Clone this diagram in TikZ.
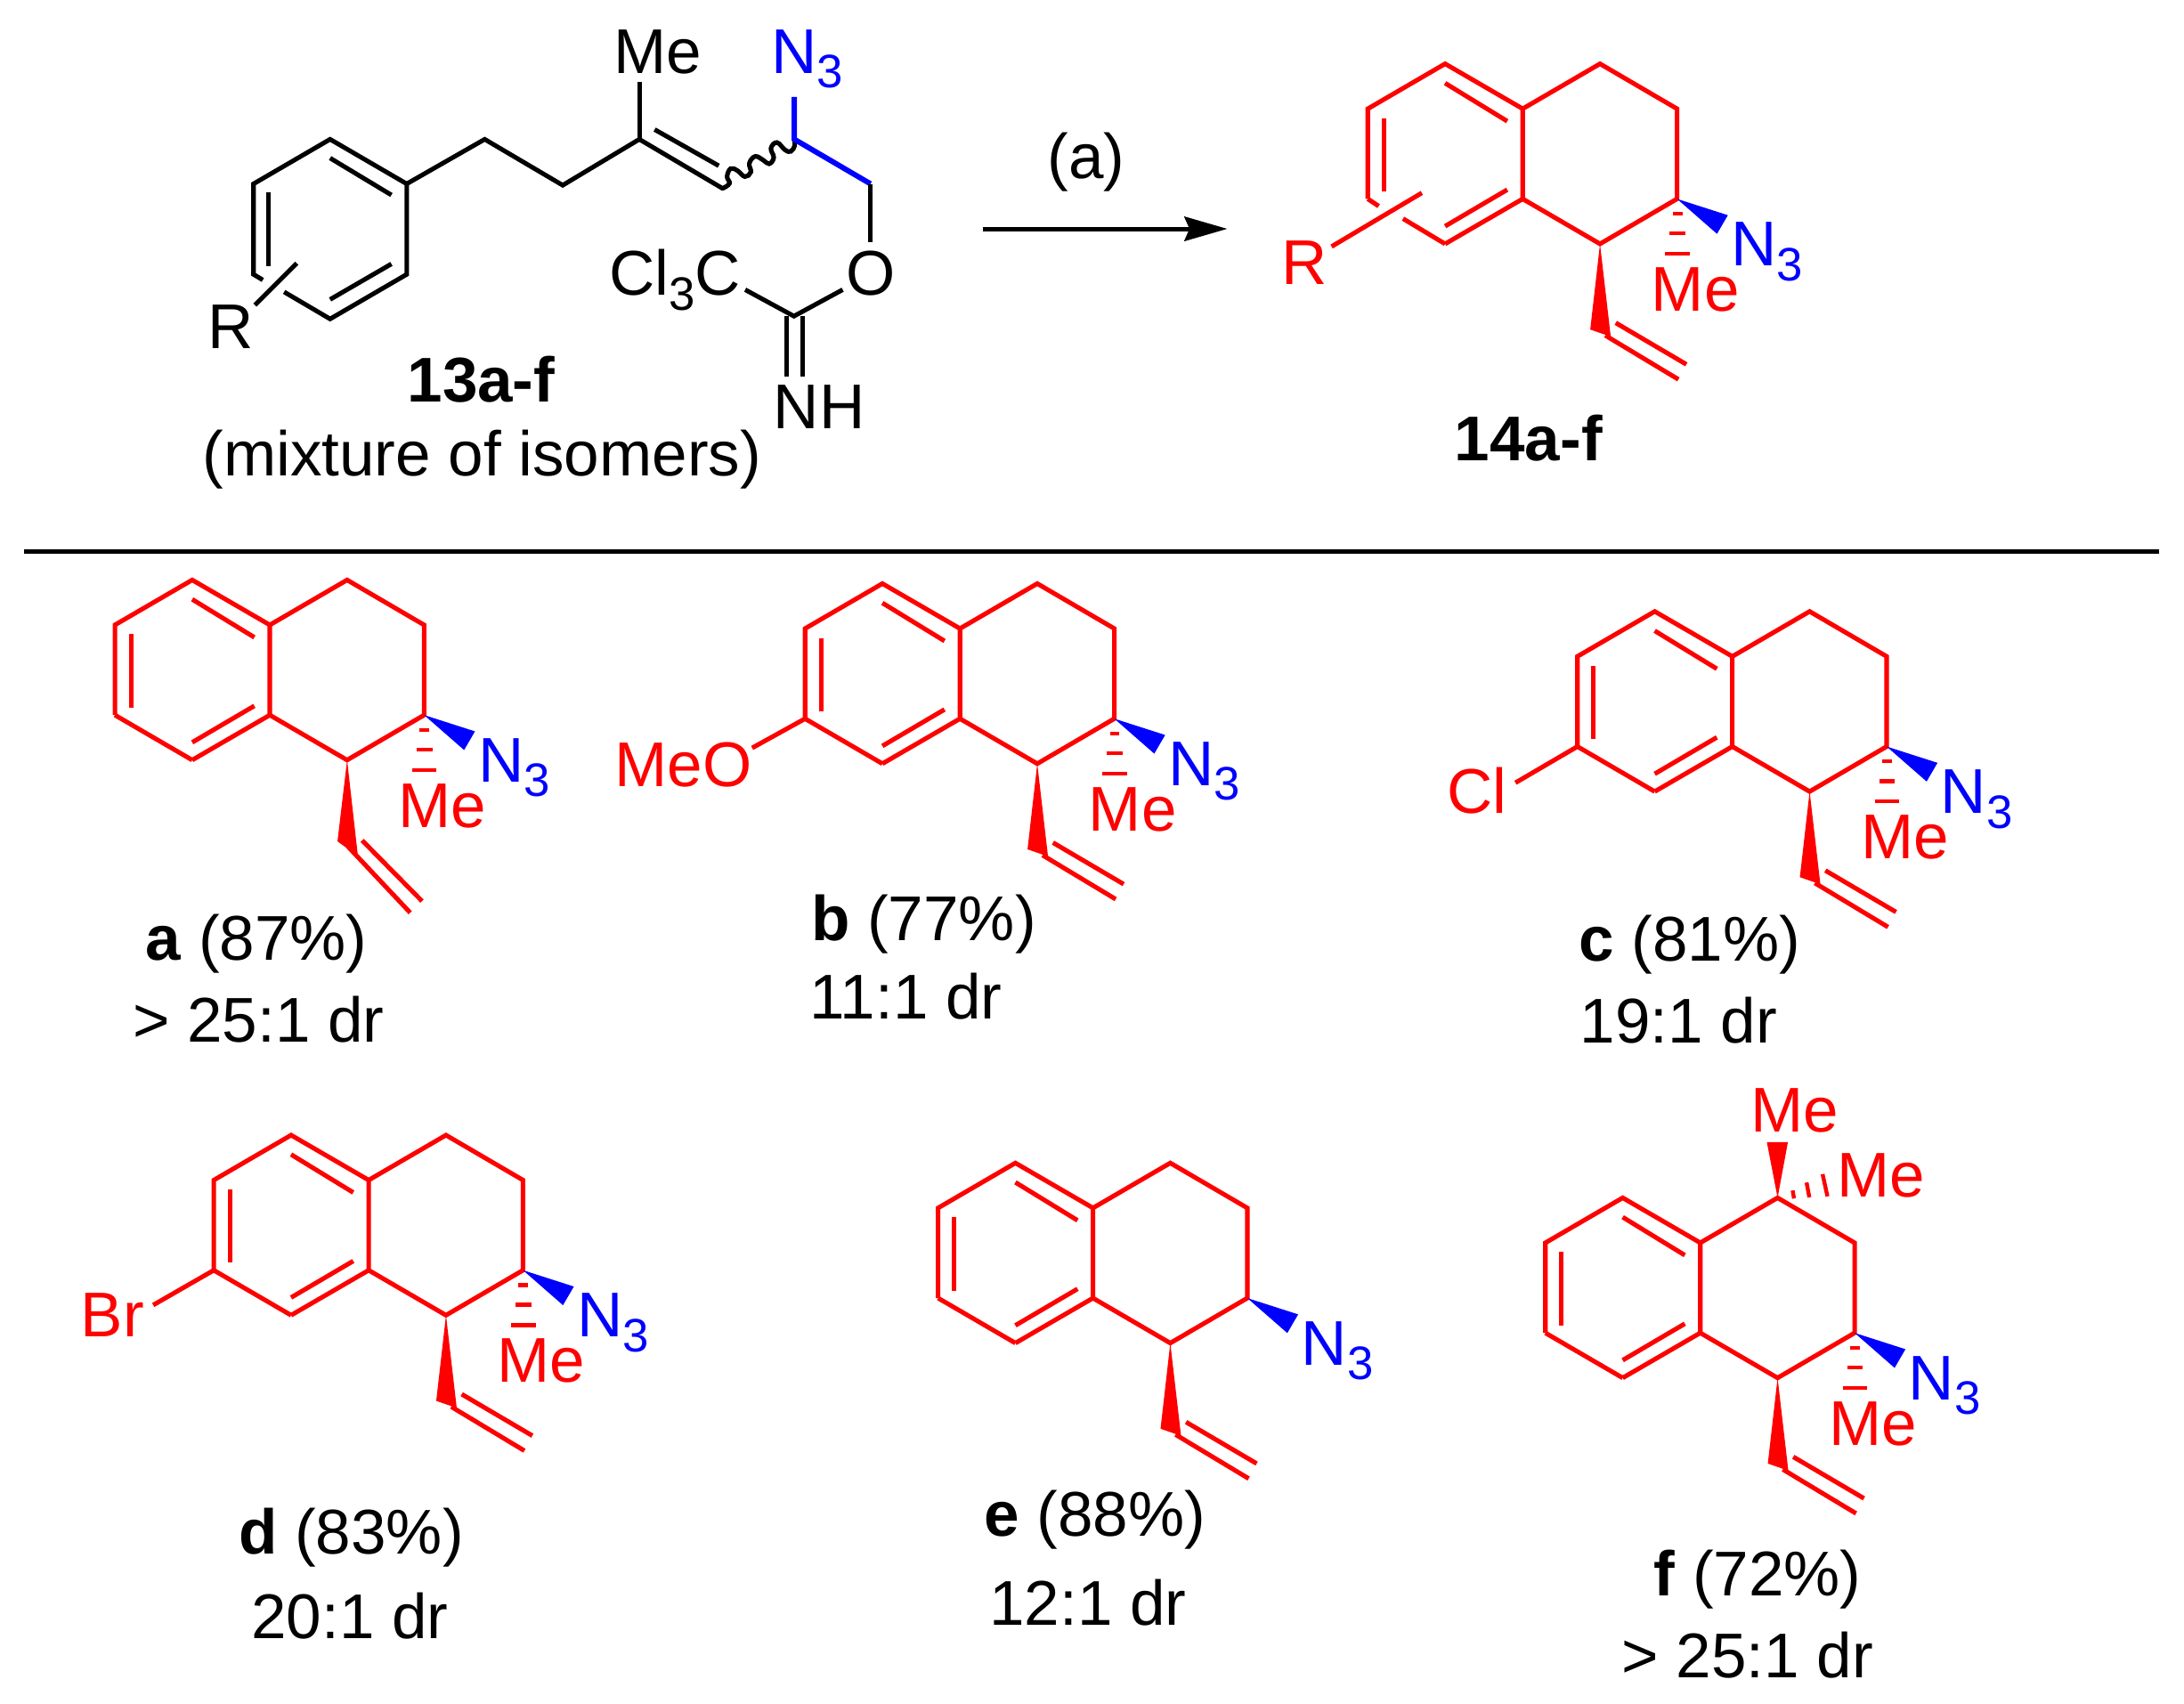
\documentclass[tikz,border=0pt]{standalone}
\usepackage{fontspec}
\setmainfont{Liberation Sans}
\newcommand{\subthree}{\raisebox{-0.165cm}{\fontsize{15}{15}\selectfont 3}}
\newcommand{\Nthree}{N\subthree}
\tikzset{
  x=0.015645cm, y=-0.015645cm,
  bond/.style={line width=1.45pt, line join=miter},
  lbl/.style={font=\fontsize{20.2}{22}\selectfont, inner sep=0pt, anchor=base west},
  rlbl/.style={lbl, text=red},
  blbl/.style={lbl, text=blue},
  klbl/.style={lbl, text=black},
  hashl/.style={line width=1.25pt, red},
}
% tetralin: prefix, x, y of the top aromatic atom
\newcommand{\tetralin}[3]{%
  \begin{scope}[shift={(#2,#3)}, name prefix=#1-]
    \coordinate (T) at (0,0);
    \coordinate (Aa) at (55.7,32.3);
    \coordinate (Ab) at (55.7,97);
    \coordinate (B) at (0,129.3);
    \coordinate (Lb) at (-55.5,97);
    \coordinate (Lt) at (-55.5,32.3);
    \coordinate (S) at (111.2,0);
    \coordinate (C3) at (166.5,32.3);
    \coordinate (C2) at (166.5,97);
    \coordinate (C1) at (111.2,129.3);
    \coordinate (i1) at (0,13.9); \coordinate (i2) at (44.6,41.2);
    \coordinate (i3) at (44.6,90.4); \coordinate (i4) at (0,116.6);
    \coordinate (i5) at (-43.9,39); \coordinate (i6) at (-43.9,91.6);
    \coordinate (n1) at (203,108.7); \coordinate (n2) at (195.2,122.1);
    \draw[bond,red] (Lb) -- (Lt) -- (T) -- (Aa) -- (Ab) -- (B);
    \draw[bond,red] (Aa) -- (S) -- (C3) -- (C2) -- (C1) -- (Ab);
    \draw[bond,red] (i1) -- (i2);
    \draw[bond,red] (i3) -- (i4);
    \draw[bond,red] (i5) -- (i6);
    \fill[blue] (C2) -- (n1) -- (n2) -- cycle;
    \node[blbl] (N3) at (205,145) {\Nthree};
  \end{scope}}
% wedge and vinyl group (common geometry)
\newcommand{\vinylgroup}[3]{%
  \begin{scope}[shift={(#2,#3)}, name prefix=#1-]
    \coordinate (w1) at (104.2,190.8); \coordinate (w2) at (118.9,195.9);
    \coordinate (v1) at (115,195); \coordinate (v2) at (167.5,226.6);
    \coordinate (v3) at (122.5,186); \coordinate (v4) at (173.2,215.8);
    \fill[red] (C1) -- (w1) -- (w2) -- cycle;
    \draw[bond,red] (v1) -- (v2);
    \draw[bond,red] (v3) -- (v4);
  \end{scope}}
% hashed bond to the lower Me and its label
\newcommand{\hashme}[3]{%
  \begin{scope}[shift={(#2,#3)}, name prefix=#1-]
    \draw[hashl] (163.3,107.6) -- (170.3,107.6);
    \draw[hashl] (161.1,121.8) -- (172.5,121.8);
    \draw[hashl] (158.1,136.4) -- (175.5,136.4);
    \node[rlbl] (Me) at (147.7,177.5) {Me};
  \end{scope}}
\begin{document}
\begin{tikzpicture}
\useasboundingbox (0,0) rectangle (1568,1223.4);
\fill[white] (0,0) rectangle (1568,1223.4);

% ---- substrate 13
\coordinate (p1) at (237,100); \coordinate (p2) at (292,132);
\coordinate (p3) at (292,197); \coordinate (p4) at (237,229);
\coordinate (p5) at (182,197); \coordinate (p6) at (182,132);
\coordinate (p7) at (348,100); \coordinate (p8) at (404,133);
\coordinate (p9) at (459,100); \coordinate (p10) at (518.8,135.3);
\coordinate (p11) at (570.3,100); \coordinate (p12) at (625,132);
\coordinate (p13) at (570,227);
\coordinate (g1) at (188.7,201); \coordinate (g2) at (204,209.6);
\coordinate (r1) at (183,219); \coordinate (r2) at (213,189);
\node[klbl] (sMe) at (440,52.5) {Me};
\node[blbl] (sN) at (553.5,52.5) {\Nthree};
\node[klbl] (sCl) at (437,212) {Cl\subthree C};
\node[klbl,anchor=base] (sO) at (625,212) {O};
\node[klbl] (sNH) at (555,308) {NH};
\node[klbl] (sR) at (149,250.5) {R};
\draw[bond] (g1) -- (p5) -- (p6) -- (p1) -- (p2) -- (p3) -- (p4) -- (g2);
\draw[bond] (p2) -- (p7) -- (p8) -- (p9) -- (p10);
\draw[bond] (237,113.5) -- (281,140);
\draw[bond] (281,189.5) -- (237,215);
\draw[bond] (193,138) -- (193,191);
\draw[bond] (r1) -- (r2);
\draw[bond] (470,93) -- (516,119);
\draw[bond] (p9) -- (459,59);
\draw[line width=1.45pt,line cap=round] plot[smooth,tension=0.7] coordinates {(p10) (523.7,131.7) (522,126.8) (524.6,121) (529.4,122.5) (534.8,126.8) (539,123.6) (538,117.2) (542.2,112.3) (548,115) (552.2,117.6) (555.5,113.1) (553.5,106.5) (557.8,102.3) (563.6,107.6) (567.8,108.7) (570.6,104.4) (p11)};
\draw[bond,blue,line width=1.7pt] (570.3,69.6) -- (p11) -- (p12);
\draw[bond] (p12) -- (625,174);
\draw[bond] (605,208) -- (p13) -- (535,208);
\draw[bond] (564.6,227) -- (564.6,270.5);
\draw[bond] (576,227) -- (576,270.5);
\node[klbl,font=\fontsize{20.2}{22}\selectfont\bfseries] (s13) at (292,288.5) {13a-f};
\node[klbl] (smix) at (145,341.5) {(mixture of isomers)};

% ---- arrow
\coordinate (a0) at (706,164.3); \coordinate (a1) at (881,164.3);
\coordinate (a2) at (850,155.3); \coordinate (a3) at (854,164.3); \coordinate (a4) at (850,173.3);
\draw[line width=1.42pt] (a0) -- (a3);
\fill (a1) -- (a2) -- (a3) -- (a4) -- cycle;
\node[klbl,anchor=base] (aL) at (780,128) {(a)};

% ---- product 14
\tetralin{p}{1037.5}{45.8}
\vinylgroup{p}{1037.5}{45.8}
\hashme{p}{1037.5}{45.8}
\draw[bond,red] (p-B) -- (1007.3,157);
\draw[bond,red] (p-Lb) -- (989.8,148);
\draw[bond,red] (956,177) -- (1020.8,138.5);
\node[rlbl] (pR) at (920,204) {R};
\node[klbl,font=\fontsize{20.2}{22}\selectfont\bfseries] (p14) at (1044,330.5) {14a-f};

% ---- separator
\coordinate (l0) at (17,396); \coordinate (l1) at (1550,396);
\draw[line width=1.42pt] (l0) -- (l1);

% ---- a
\tetralin{a}{138}{416.4} \hashme{a}{138}{416.4}
\coordinate (aw1) at (242.3,604); \coordinate (aw2) at (257,615);
\fill[red] (a-C1) -- (aw1) -- (aw2) -- cycle;
\draw[bond,red] (250,608) -- (294.5,655.3);
\draw[bond,red] (260,603.4) -- (303,647);
\draw[bond,red] (a-Lb) -- (a-B);
\node[klbl] (aT) at (104,689.5) {\textbf{a} (87\%)};
\node[klbl] (aD) at (95,748.5) {> 25:1 dr};
% ---- b
\tetralin{b}{633.5}{419} \vinylgroup{b}{633.5}{419} \hashme{b}{633.5}{419}
\draw[bond,red] (b-Lb) -- (b-B);
\node[rlbl] (bO) at (441,565) {MeO};
\draw[bond,red] (b-Lb) -- (540,537);
\node[klbl] (bT) at (582,675) {\textbf{b} (77\%)};
\node[klbl] (bD) at (581,731.5) {11:1 dr};
% ---- c
\tetralin{c}{1188}{439} \vinylgroup{c}{1188}{439} \hashme{c}{1188}{439}
\draw[bond,red] (c-Lb) -- (c-B);
\node[rlbl] (cC) at (1038.5,584) {Cl};
\draw[bond,red] (c-Lb) -- (1088,562);
\node[klbl] (cT) at (1133,690) {\textbf{c} (81\%)};
\node[klbl] (cD) at (1134,749) {19:1 dr};
% ---- d
\tetralin{d}{209}{815} \vinylgroup{d}{209}{815} \hashme{d}{209}{815}
\draw[bond,red] (d-Lb) -- (d-B);
\node[rlbl] (dB) at (57.5,960) {Br};
\draw[bond,red] (d-Lb) -- (110,937);
\node[klbl] (dT) at (171,1116) {\textbf{d} (83\%)};
\node[klbl] (dD) at (180,1176.5) {20:1 dr};
% ---- e
\tetralin{e}{729}{835} \vinylgroup{e}{729}{835}
\draw[bond,red] (e-Lb) -- (e-B);
\node[klbl] (eT) at (706,1103) {\textbf{e} (88\%)};
\node[klbl] (eD) at (710,1167) {12:1 dr};
% ---- f
\tetralin{f}{1165}{860} \vinylgroup{f}{1165}{860} \hashme{f}{1165}{860}
\draw[bond,red] (f-Lb) -- (f-B);
\coordinate (fw1) at (1268.5,820); \coordinate (fw2) at (1283.6,820);
\fill[red] (f-S) -- (fw1) -- (fw2) -- cycle;
\node[rlbl] (fM1) at (1256.5,812.5) {Me};
\node[rlbl] (fM2) at (1318.5,859.7) {Me};
\draw[hashl] (1287,854.7) -- (1288,860.5);
\draw[hashl] (1297,849) -- (1299,859.7);
\draw[hashl] (1308.5,843) -- (1312,859);
\node[klbl] (fT) at (1187,1145.5) {\textbf{f} (72\%)};
\node[klbl] (fD) at (1164,1204.5) {> 25:1 dr};
\end{tikzpicture}
\end{document}
